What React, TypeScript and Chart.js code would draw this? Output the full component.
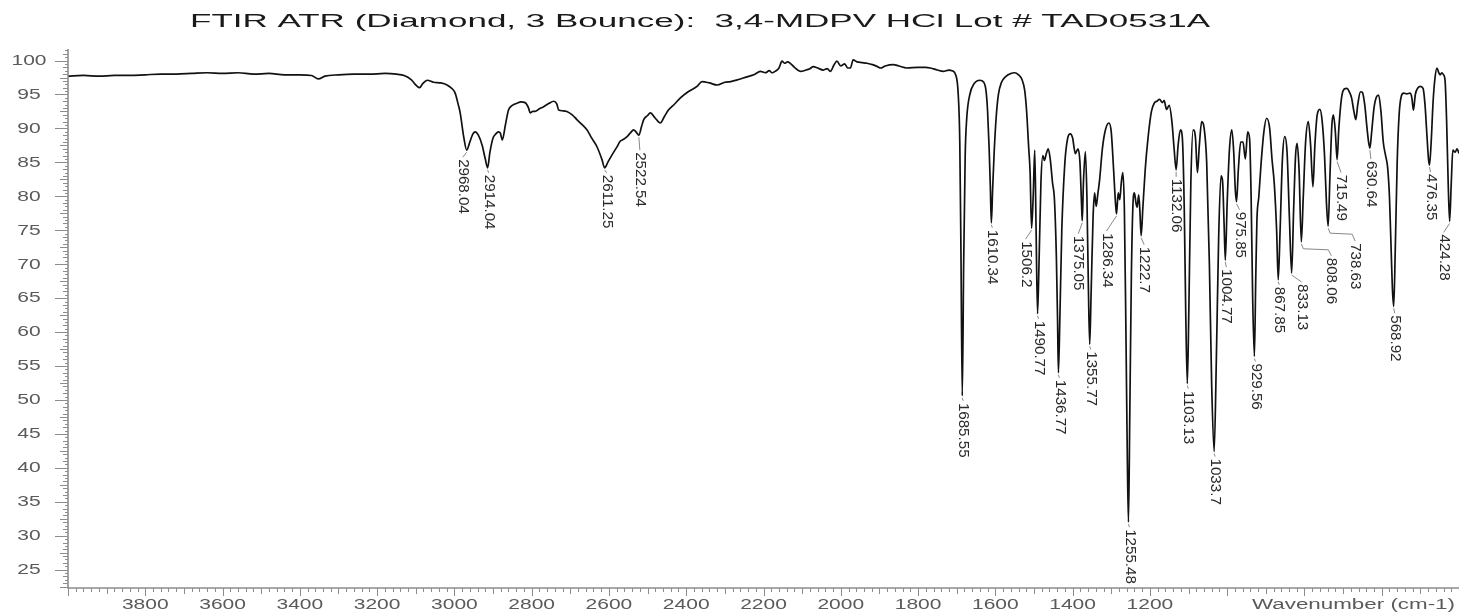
import React, { useEffect, useRef } from 'react';
import { Chart, registerables } from 'chart.js';

Chart.register(...registerables);

// ---------- texts ----------
const TITLE = 'FTIR ATR (Diamond, 3 Bounce):  3,4-MDPV HCl Lot # TAD0531A';
const X_AXIS_LABEL = 'Wavenumber (cm-1)';
const xTickLabels = [3800, 3600, 3400, 3200, 3000, 2800, 2600, 2400, 2200, 2000, 1800, 1600, 1400, 1200];
const yTickLabels = [25, 30, 35, 40, 45, 50, 55, 60, 65, 70, 75, 80, 85, 90, 95, 100];

// ---------- spectrum: [wavenumber cm-1, %T] ----------
const spectrumHigh: [number, number][] = [
  [4000, 97.7], [3960, 97.8], [3920, 97.7], [3880, 97.8], [3840, 97.8], [3800, 97.9], [3760, 98.0],
  [3720, 98.0], [3680, 98.1], [3640, 98.2], [3600, 98.1], [3560, 98.2], [3520, 98.0], [3480, 98.1],
  [3440, 97.9], [3400, 97.9], [3370, 97.8], [3352, 97.3], [3335, 97.7], [3300, 97.9], [3260, 98.0],
  [3220, 98.0], [3180, 98.1], [3150, 98.0], [3130, 97.8], [3112, 97.2], [3098, 96.3], [3090, 96.0],
  [3082, 96.6], [3070, 97.1], [3054, 96.8], [3035, 96.7], [3019, 96.4], [3005, 95.8], [2998, 95.2],
  [2990, 93.5], [2985, 92.3], [2976, 88.8], [2968.04, 86.8], [2960, 88.0], [2952, 89.2], [2946, 89.5],
  [2938, 89.0], [2928, 87.5], [2920, 85.5], [2914.04, 84.2], [2908, 86.5], [2900, 88.6], [2894, 89.1],
  [2886, 89.5], [2881, 89.3], [2876, 88.3], [2868, 90.5], [2860, 92.7], [2850, 93.4], [2838, 93.7],
  [2828, 93.9], [2817, 93.8], [2808, 93.0], [2804, 92.3], [2797, 92.5], [2791, 92.5], [2780, 92.9],
  [2769, 93.2], [2755, 93.7], [2743, 94.0], [2735, 93.6], [2730, 92.7], [2720, 92.6], [2709, 92.5],
  [2695, 92.0], [2683, 91.3], [2670, 90.6], [2657, 89.8], [2645, 88.6], [2631, 87.3], [2618, 85.4],
  [2611.25, 84.2], [2603, 85.0], [2592, 86.1], [2580, 87.2], [2571, 88.1], [2562, 88.4], [2553, 88.8],
  [2545, 89.3], [2536, 89.8], [2530, 89.5], [2522.54, 89.0], [2516, 90.2], [2510, 91.3], [2500, 91.9],
  [2493, 92.3], [2480, 91.5], [2467, 90.8], [2456, 91.8], [2446, 92.7], [2430, 93.6], [2415, 94.5],
  [2395, 95.4], [2372, 96.2],
];

const spectrumMid: [number, number][] = [
  [2359, 96.9], [2340, 96.7], [2320, 96.4], [2300, 96.8], [2285, 96.9], [2265, 97.2], [2243, 97.6],
  [2225, 97.9], [2208, 98.4], [2195, 98.2], [2185, 98.5], [2178, 98.2], [2170, 98.4], [2160, 98.9],
  [2152, 99.9], [2145, 99.6], [2138, 99.8], [2131, 99.6], [2120, 99.0], [2105, 98.4], [2090, 98.6],
  [2080, 98.8], [2071, 99.1], [2060, 98.9], [2045, 98.6], [2035, 98.8], [2027, 98.4], [2018, 99.3],
  [2010, 99.9], [2000, 99.2], [1990, 99.5], [1982, 98.9], [1975, 98.9], [1968, 100.1], [1958, 99.8],
  [1945, 99.7], [1932, 99.6], [1918, 99.4], [1905, 99.1], [1897, 98.9], [1885, 99.2], [1864, 99.4],
  [1850, 99.2], [1829, 98.9], [1800, 99.0], [1780, 99.0], [1768, 98.9], [1750, 98.6], [1735, 98.4],
  [1720, 98.6], [1712, 98.5], [1702, 97.8],
];

const spectrumFinger: [number, number][] = [
  [1696, 95.0], [1692, 88.0], [1689, 72], [1685.55, 50.6], [1682, 70], [1678, 86], [1674, 91.5],
  [1666, 95.0], [1655, 96.6], [1640, 97.1], [1630, 96.8], [1624, 95.5], [1620, 92.5], [1616, 87],
  [1613, 81.5], [1610.34, 76.1], [1607, 81], [1603, 86.5], [1598, 91.5], [1592, 95], [1584, 96.8],
  [1574, 97.6], [1560, 98.1], [1550, 98.2], [1540, 97.9], [1531, 97.2], [1524, 95.6], [1519, 92.5],
  [1514, 87.5], [1510, 83.5], [1506.2, 75.3], [1502, 80.0], [1498, 86.8], [1494.5, 75], [1490.77, 62.7],
  [1487, 70], [1482, 82], [1477, 86.0], [1473, 85.3], [1468, 86.3], [1463, 87.0], [1458, 85.5],
  [1452, 82], [1447, 79.5], [1442, 71], [1439, 62], [1436.77, 54.0], [1433, 62], [1428, 75],
  [1420, 85], [1413, 88.5], [1406, 89.2], [1400, 88.6], [1393, 86.3], [1386, 87.0], [1381, 85],
  [1377, 79], [1375.05, 76.4], [1372, 82], [1367, 86.6], [1363, 80], [1359, 66], [1355.77, 58.2],
  [1352, 66], [1347, 77], [1343, 80.5], [1339, 78.5], [1335, 80.2], [1330, 82.5], [1323, 87],
  [1315, 89.8], [1306, 90.8], [1300, 89.5], [1294, 84], [1289, 79], [1286.34, 77.4], [1282, 80.5],
  [1278, 79.5], [1274, 82], [1270, 83.5], [1266, 78], [1262, 60], [1258.5, 42], [1255.48, 32],
  [1252, 48], [1248, 68], [1244, 78.5], [1240, 80.5], [1236, 79], [1233, 78.4], [1229, 80.2],
  [1226, 78], [1222.7, 74.2], [1218, 78.5], [1212, 84], [1205, 88.5], [1196, 92.5], [1188, 93.8],
];

const spectrumLow: [number, number][] = [
  [1182, 94.0], [1175, 94.3], [1168, 93.8], [1163, 94.1], [1157, 92.8], [1150, 93.4], [1143, 91.0],
  [1137, 86.8], [1132.06, 83.9], [1127, 87.5], [1121, 89.8], [1116, 88.6], [1111, 78], [1107, 62],
  [1103.13, 52.4], [1099, 64], [1094, 82], [1088, 89.8], [1082, 88.6], [1077, 83.5], [1072, 87.5],
  [1066, 91.0], [1060, 90.2], [1053, 85], [1046, 70], [1040, 52], [1033.7, 42.4], [1028, 56],
  [1022, 74], [1016, 83.0], [1012, 82.3], [1008, 76], [1004.77, 70.6], [1000, 79], [994, 87],
  [988, 89.8], [983, 86.5], [979, 81], [975.85, 79.2], [971, 84], [965, 88.0], [959, 88.0],
  [953, 85.5], [947, 89.5], [942, 88.5], [938, 80], [934, 65], [929.56, 56.4], [926, 68], [923, 76.5],
  [918, 80], [912, 85], [905, 89.5], [898, 91.5], [890, 90.0], [884, 85.5], [878, 81.8], [872, 75],
  [867.85, 67.7], [863, 75], [857, 85.5], [851, 88.8], [845, 86.5], [839, 77], [833.13, 68.7],
  [828, 78], [823, 86], [819, 87.8], [814, 84], [808.06, 73.3], [803, 80], [797, 88], [790, 91.0],
  [784, 87.5], [778, 81.4], [773, 87.5], [767, 92.0], [760, 92.8], [754, 91.0], [748, 86], [743, 79],
  [738.63, 75.6], [734, 83], [729, 90.5], [725, 92.0], [720, 89.5], [715.49, 85.4], [711, 90],
  [704, 94.5], [697, 95.8], [690, 95.9], [684, 95.4], [678, 94.5], [672, 92.5], [667, 91.3],
  [662, 93.5], [655, 95.4], [650, 95.3], [644, 93.5], [638, 90], [634, 88], [630.64, 87.1],
  [626, 89.5], [620, 93], [614, 94.6], [608, 94.9], [602, 92.5], [596, 88], [590, 86], [585, 84.4],
  [580, 80], [575, 71], [572, 66], [568.92, 63.8], [565, 72], [560, 85], [555, 92], [549, 94.8],
  [543, 95.2], [535, 95.1], [527, 95.2], [522, 94.5], [518, 92.7], [513, 95.0], [506, 96.0],
  [500, 96.2], [493, 95.9], [488, 93.5], [483, 89], [479, 85.5], [476.35, 84.6], [472, 88],
  [467, 94], [462, 97.5], [457, 98.9], [453, 98.3], [449, 97.9], [444, 98.2], [440, 97.9],
  [436, 97.0], [432, 91], [428, 82], [424.28, 76.3], [420, 82], [416, 86.8], [410, 86.5],
  [405, 87.0], [400, 86.3],
];

// labelled peaks (wavenumber, cm-1)
const peakWn = [
  2968.04, 2914.04, 2611.25, 2522.54, 1685.55, 1610.34, 1506.2, 1490.77, 1436.77, 1375.05,
  1355.77, 1286.34, 1255.48, 1222.7, 1132.06, 1103.13, 1033.7, 1004.77, 975.85, 929.56,
  867.85, 833.13, 808.06, 738.63, 715.49, 630.64, 568.92, 476.35, 424.28,
];

// label placement (style): [dx, dy] px offsets of label start from the peak tip
const labelPlacement: [number, number][] = [
  [-4, 8], [1, 6], [2, 6], [1, 16], [1, 6], [1, 6], [-6, 12], [1, 6], [1, 6], [-4, 14],
  [1, 6], [-10, 18], [1, 6], [3, 10], [0, 8], [1, 6], [1, 6], [1, 8], [3, 9], [1, 6],
  [1, 6], [10, 10], [30, 15], [27, 16], [4, 14], [1, 12], [1, 8], [1, 8], [-6, 12],
];

const FONT = '"Liberation Sans", Arial, Helvetica, sans-serif';

function stretchedText(
  ctx: CanvasRenderingContext2D,
  text: string,
  x: number,
  y: number,
  align: CanvasTextAlign,
  sx: number,
) {
  ctx.save();
  ctx.translate(x, y);
  ctx.scale(sx, 1);
  ctx.textAlign = align;
  ctx.fillText(text, 0, 0);
  ctx.restore();
}

const overlayPlugin = {
  id: 'ftirOverlay',
  afterDraw(chart: any) {
    const ctx: CanvasRenderingContext2D = chart.ctx;
    const xs = chart.scales.x;
    const ys = chart.scales.y;
    const area = chart.chartArea;
    const all: [number, number][] = chart.$allPoints;
    ctx.save();

    // axes lines
    ctx.strokeStyle = '#8c8c8c';
    ctx.lineWidth = 1.6;
    ctx.beginPath();
    ctx.moveTo(area.left, area.top);
    ctx.lineTo(area.left, area.bottom);
    ctx.lineTo(area.right, area.bottom);
    ctx.stroke();

    // y ruler ticks
    ctx.lineWidth = 1;
    ctx.strokeStyle = '#8c8c8c';
    ctx.beginPath();
    for (let i = Math.ceil(ys.min * 2); i <= Math.floor(ys.max * 2); i++) {
      const v = i / 2;
      const y = Math.round(ys.getPixelForValue(v)) + 0.5;
      let len = 3;
      if (i % 10 === 0) len = 13;
      else if (i % 5 === 0) len = 8;
      else if (i % 2 === 0) len = 5;
      ctx.moveTo(area.left, y);
      ctx.lineTo(area.left - len, y);
    }
    // x ruler ticks
    for (let w = 400; w <= 4000; w += 20) {
      const x = Math.round(xs.getPixelForValue(w)) + 0.5;
      let len = 4;
      if (w % 200 === 0) len = 8;
      else if (w % 100 === 0) len = 6;
      ctx.moveTo(x, area.bottom);
      ctx.lineTo(x, area.bottom + len);
    }
    ctx.stroke();

    // tick labels
    ctx.fillStyle = '#5a5a5a';
    ctx.font = `14px ${FONT}`;
    ctx.textBaseline = 'middle';
    for (const v of yTickLabels) {
      stretchedText(ctx, String(v), 29, ys.getPixelForValue(v) + 0.5, 'center', 1.5);
    }
    for (const w of xTickLabels) {
      stretchedText(ctx, String(w), xs.getPixelForValue(w), 605.5, 'center', 1.5);
    }
    const aw = ctx.measureText(X_AXIS_LABEL).width;
    stretchedText(ctx, X_AXIS_LABEL, 1252, 605.5, 'left', 203 / aw);

    // title
    ctx.fillStyle = '#1a1a1a';
    ctx.font = `18px ${FONT}`;
    ctx.textBaseline = 'alphabetic';
    const tw = ctx.measureText(TITLE).width;
    stretchedText(ctx, TITLE, 190, 27, 'left', 1020 / tw);

    // peak labels
    ctx.font = `14px ${FONT}`;
    ctx.textBaseline = 'middle';
    peakWn.forEach((wn, idx) => {
      const pt = all.find((p) => p[0] === wn);
      if (!pt) return;
      const px = xs.getPixelForValue(wn);
      const py = ys.getPixelForValue(pt[1]);
      const [dx, dy] = labelPlacement[idx];
      const lx = px + dx;
      const ly = py + dy;
      ctx.strokeStyle = '#7a7a7a';
      ctx.lineWidth = 0.9;
      ctx.beginPath();
      if (Math.abs(dx) > 12) {
        ctx.moveTo(px, py + 2);
        ctx.lineTo(px + 2, py + 7);
        ctx.lineTo(lx - 3, py + 8);
        ctx.lineTo(lx, ly - 1);
      } else {
        ctx.moveTo(px, py + 2);
        ctx.lineTo(lx, ly - 1);
      }
      ctx.stroke();
      ctx.fillStyle = '#2a2a2a';
      ctx.save();
      ctx.translate(lx, ly + 1);
      ctx.rotate(Math.PI / 2);
      ctx.scale(1.08, 1);
      ctx.textAlign = 'left';
      ctx.fillText(String(wn), 0, 0);
      ctx.restore();
    });

    ctx.restore();
  },
};

export default function App() {
  const ref = useRef<HTMLCanvasElement>(null);

  useEffect(() => {
    document.body.style.margin = '0';
    const canvas = ref.current;
    if (!canvas) return;
    const allPoints: [number, number][] = [
      ...spectrumHigh,
      ...spectrumMid,
      ...spectrumFinger,
      ...spectrumLow,
    ];
    const chart: any = new Chart(canvas, {
      type: 'line',
      data: {
        datasets: [
          {
            data: allPoints.map(([x, y]) => ({ x, y })),
            borderColor: '#111111',
            borderWidth: 1.7,
            pointRadius: 0,
            fill: false,
            cubicInterpolationMode: 'monotone',
          },
        ],
      },
      options: {
        animation: false,
        responsive: false,
        maintainAspectRatio: false,
        layout: { padding: { left: 68, top: 49, right: 0, bottom: 24 } },
        plugins: {
          legend: { display: false },
          tooltip: { enabled: false },
          title: { display: false },
        },
        events: [],
        scales: {
          x: { type: 'linear', min: 400, max: 4000, reverse: true, display: false },
          y: { type: 'linear', min: 22.3, max: 101.7, display: false },
        },
      },
      plugins: [
        {
          id: 'pointsRef',
          beforeInit(c: any) {
            c.$allPoints = allPoints;
          },
        },
        overlayPlugin,
      ],
    } as any);
    return () => chart.destroy();
  }, []);

  return (
    <div style={{ width: 1459, height: 612, background: '#ffffff' }}>
      <canvas ref={ref} width={1459} height={612} style={{ display: 'block', width: 1459, height: 612 }} />
    </div>
  );
}
